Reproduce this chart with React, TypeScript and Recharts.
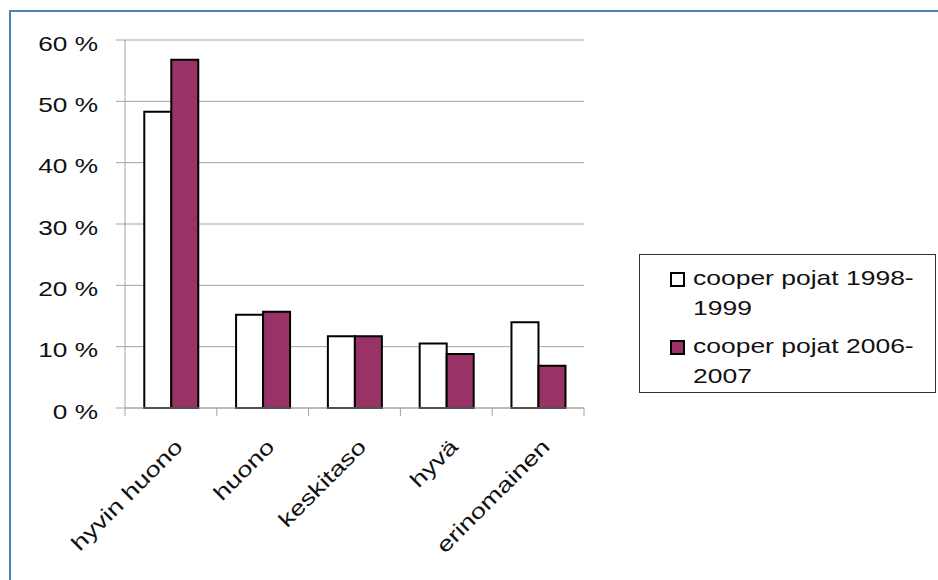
import { BarChart, Bar, XAxis, YAxis, CartesianGrid } from 'recharts';

const CATEGORIES = ['hyvin huono', 'huono', 'keskitaso', 'hyvä', 'erinomainen'];
const SERIES_1998 = [48.3, 15.2, 11.7, 10.5, 14.0];
const SERIES_2006 = [56.8, 15.7, 11.7, 8.8, 6.9];
const Y_TICKS = [0, 10, 20, 30, 40, 50, 60];

const SERIES = [
  { key: 'a', name: 'cooper pojat 1998-\n1999', fill: '#ffffff' },
  { key: 'b', name: 'cooper pojat 2006-\n2007', fill: '#993366' },
];

const WIDTH = 938;
const HEIGHT = 580;
const MARGIN = { top: 40, right: 354, bottom: 142, left: 0 };
const Y_AXIS_WIDTH = 125;
const PLOT_WIDTH = WIDTH - MARGIN.left - MARGIN.right - Y_AXIS_WIDTH;
const FONT = '"Liberation Sans", Arial, sans-serif';
const GRID = '#a3a3a3';
const TEXT = '#111';

const data = CATEGORIES.map((name, i) => ({ name, a: SERIES_1998[i], b: SERIES_2006[i] }));

// the source renders its text wide, so glyphs get stretched along the baseline
function CategoryTick(props: any) {
  const { x, y, payload, index } = props;
  const step = PLOT_WIDTH / CATEGORIES.length;
  const tx = x + 13;
  const ty = y + 40;
  return (
    <g>
      <line x1={x - step / 2} y1={y} x2={x - step / 2} y2={y + 8} stroke={GRID} />
      {index === CATEGORIES.length - 1 && (
        <line x1={x + step / 2} y1={y} x2={x + step / 2} y2={y + 8} stroke={GRID} />
      )}
      <text
        x={0}
        y={0}
        transform={`translate(${tx}, ${ty}) rotate(-45) scale(1.3, 1)`}
        textAnchor="end"
        fontSize={21}
        fontFamily={FONT}
        fill={TEXT}
      >
        {payload.value}
      </text>
    </g>
  );
}

function PercentTick(props: any) {
  const { x, y, payload } = props;
  return (
    <text
      x={0}
      y={0}
      dy="0.5em"
      transform={`translate(${x}, ${y}) scale(1.25, 1)`}
      textAnchor="end"
      fontSize={21}
      fontFamily={FONT}
      fill={TEXT}
    >
      {`${payload.value} %`}
    </text>
  );
}

export default function App() {
  return (
    <div style={{ position: 'absolute', left: 0, top: 0, width: WIDTH, height: HEIGHT, background: '#fff', overflow: 'hidden' }}>
      <div
        style={{
          position: 'absolute',
          left: 9,
          top: 10,
          width: WIDTH,
          height: HEIGHT,
          borderLeft: '2px solid #4f81bd',
          borderTop: '2px solid #4f81bd',
        }}
      />
      <div style={{ position: 'absolute', left: 0, top: 0 }}>
        <BarChart width={WIDTH} height={HEIGHT} data={data} margin={MARGIN} barCategoryGap="21%" barGap={0}>
          <CartesianGrid vertical={false} stroke={GRID} />
          <XAxis
            dataKey="name"
            interval={0}
            height={30}
            tickSize={0}
            tickMargin={0}
            tickLine={false}
            stroke={GRID}
            tick={<CategoryTick />}
          />
          <YAxis
            width={Y_AXIS_WIDTH}
            domain={[0, 60]}
            ticks={Y_TICKS}
            tickSize={9}
            tickMargin={18}
            stroke={GRID}
            tick={<PercentTick />}
          />
          {SERIES.map((s) => (
            <Bar key={s.key} dataKey={s.key} fill={s.fill} stroke="#000" strokeWidth={2} isAnimationActive={false} />
          ))}
        </BarChart>
      </div>
      <div
        style={{
          position: 'absolute',
          left: 639,
          top: 254,
          width: 297,
          height: 139,
          boxSizing: 'border-box',
          border: '1px solid #333',
          padding: '8px 0 0 30px',
          fontFamily: FONT,
          fontSize: 21,
          lineHeight: '30px',
          color: TEXT,
        }}
      >
        {SERIES.map((s) => (
          <div key={s.key} style={{ display: 'flex', alignItems: 'flex-start', marginBottom: 8 }}>
            <span
              style={{
                display: 'inline-block',
                width: 11,
                height: 11,
                marginTop: 9,
                marginRight: 8,
                border: '2px solid #000',
                background: s.fill,
                flex: 'none',
              }}
            />
            <span style={{ whiteSpace: 'pre', display: 'inline-block', transform: 'scaleX(1.26)', transformOrigin: 'left top' }}>
              {s.name}
            </span>
          </div>
        ))}
      </div>
    </div>
  );
}
